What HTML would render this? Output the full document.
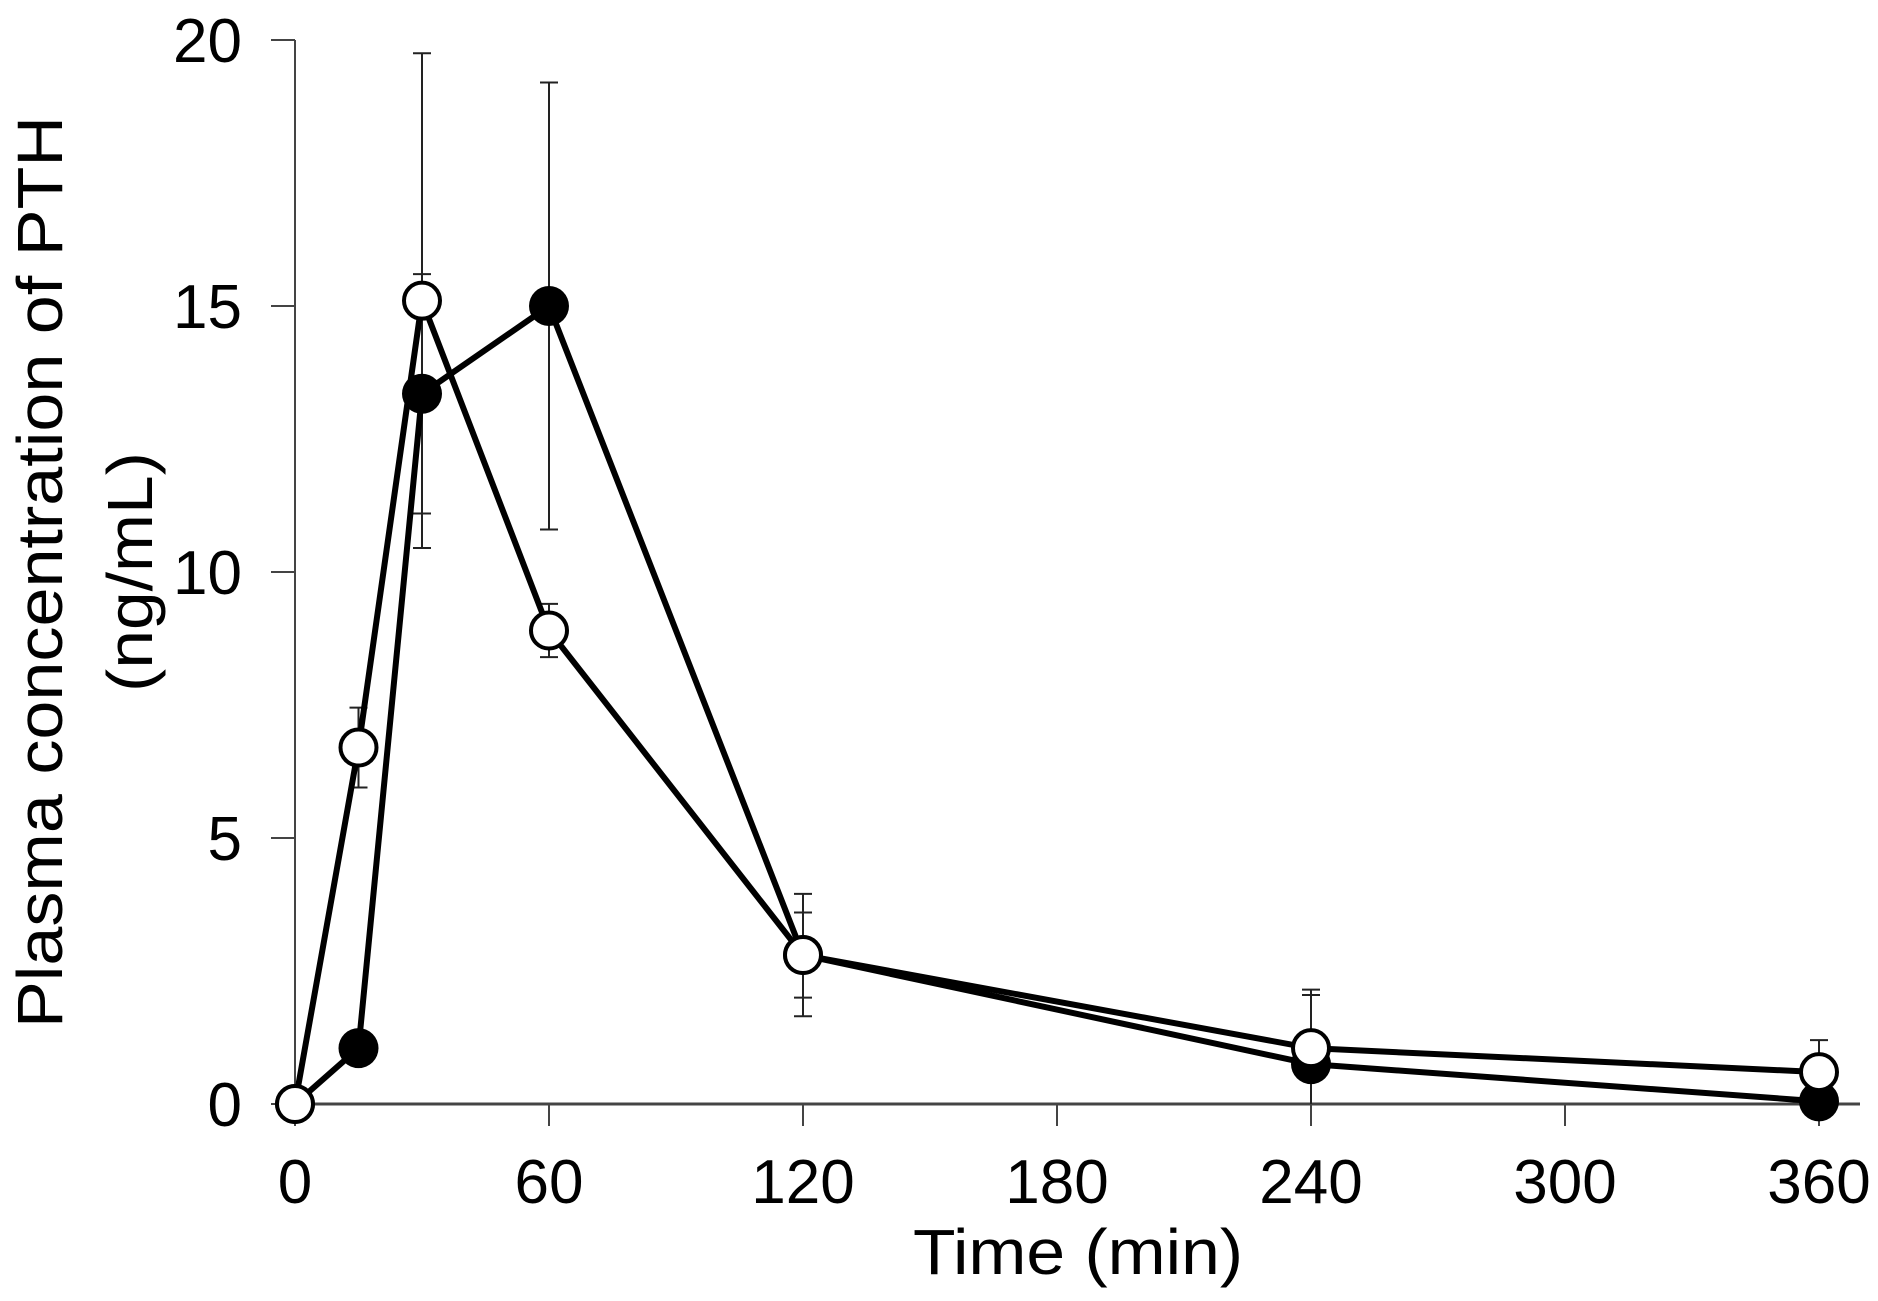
<!DOCTYPE html>
<html><head><meta charset="utf-8"><style>
html,body{margin:0;padding:0;background:#fff;}
svg text{font-family:"Liberation Sans",Arial,sans-serif;fill:#000;}
</style></head><body>
<svg id="chart" width="1878" height="1296" viewBox="0 0 1878 1296" xmlns="http://www.w3.org/2000/svg">
<g id="axes"></g>
<g id="series"></g>
<text x="1078" y="1274" font-size="64" text-anchor="middle" textLength="330" lengthAdjust="spacingAndGlyphs">Time (min)</text>
<text transform="translate(62,572) rotate(-90)" font-size="64" text-anchor="middle" textLength="912" lengthAdjust="spacingAndGlyphs">Plasma concentration of PTH</text>
<text transform="translate(152,572) rotate(-90)" font-size="64" text-anchor="middle" textLength="240" lengthAdjust="spacingAndGlyphs">(ng/mL)</text>
</svg>
<script>
const times = [0, 15, 30, 60, 120, 240, 360];
const openValues = [0, 6.7, 15.1, 8.9, 2.8, 1.05, 0.6];
const openErrors = [0, 0.75, 4.65, 0.5, 1.15, 1.1, 0.6];
const filledValues = [0, 1.05, 13.35, 15.0, 2.8, 0.75, 0.05];
const filledErrors = [0, 0, 2.25, 4.2, 0.8, 1.3, 0.1];
const xTicks = [0, 60, 120, 180, 240, 300, 360];
const yTicks = [0, 5, 10, 15, 20];

const NS = "http://www.w3.org/2000/svg";
const X0 = 295, XPER = 254/60, Y0 = 1104, YPER = (1104 - 40) / 20;
function xs(t){ return X0 + t * XPER; }
function ys(v){ return Y0 - v * YPER; }
function mk(tag, attrs, parent){
  const e = document.createElementNS(NS, tag);
  for (const k in attrs) e.setAttribute(k, attrs[k]);
  parent.appendChild(e); return e;
}
const axes = document.getElementById('axes');
const series = document.getElementById('series');

let yAxis = mk('line', {x1:X0, y1:ys(20), x2:X0, y2:Y0, stroke:'#444', 'stroke-width':2}, axes);


let xAxis = mk('line', {x1:X0, y1:Y0, x2:1860, y2:Y0, stroke:'#444', 'stroke-width':3}, axes);



yTicks.forEach(v => {
  const t = mk('line', {x1:X0-24, y1:ys(v), x2:X0, y2:ys(v), stroke:'#444', 'stroke-width':2}, axes);
  
  
  const l = mk('text', {x:242, y:ys(v)+22, 'font-size':62, 'text-anchor':'end'}, axes);
  l.textContent = v;
  
  
});
xTicks.forEach(v => {
  const t = mk('line', {x1:xs(v), y1:Y0, x2:xs(v), y2:Y0+22, stroke:'#444', 'stroke-width':2}, axes);
  
  
  const l = mk('text', {x:xs(v), y:1203, 'font-size':62, 'text-anchor':'middle'}, axes);
  l.textContent = v;
  
  
});

function errorBars(vals, errs, name){
  vals.forEach((v, i) => {
    if (!errs[i]) return;
    const x = xs(times[i]);
    const g = mk('g', {stroke:'#222', 'stroke-width':2}, series);
    
    
    const lo = Math.max(0, v - errs[i]);
    mk('line', {x1:x, y1:ys(v+errs[i]), x2:x, y2:ys(lo)}, g);
    mk('line', {x1:x-9, y1:ys(v+errs[i]), x2:x+9, y2:ys(v+errs[i])}, g);
    if (v - errs[i] > 0) mk('line', {x1:x-9, y1:ys(lo), x2:x+9, y2:ys(lo)}, g);
  });
}
errorBars(openValues, openErrors, 'open-error-bar');
errorBars(filledValues, filledErrors, 'filled-error-bar');

function line(vals, name){
  const p = mk('polyline', {points: vals.map((v,i)=>xs(times[i])+','+ys(v)).join(' '), fill:'none', stroke:'#000', 'stroke-width':6, 'stroke-linejoin':'round'}, series);
  
  
}
line(filledValues, 'filled-series-line');
line(openValues, 'open-series-line');

filledValues.forEach((v,i) => {
  const c = mk('circle', {cx:xs(times[i]), cy:ys(v), r:20, fill:'#000'}, series);
  
  
});
openValues.forEach((v,i) => {
  const c = mk('circle', {cx:xs(times[i]), cy:ys(v), r:18, fill:'#fff', stroke:'#000', 'stroke-width':4}, series);
  
  
});
</script>
</body></html>
